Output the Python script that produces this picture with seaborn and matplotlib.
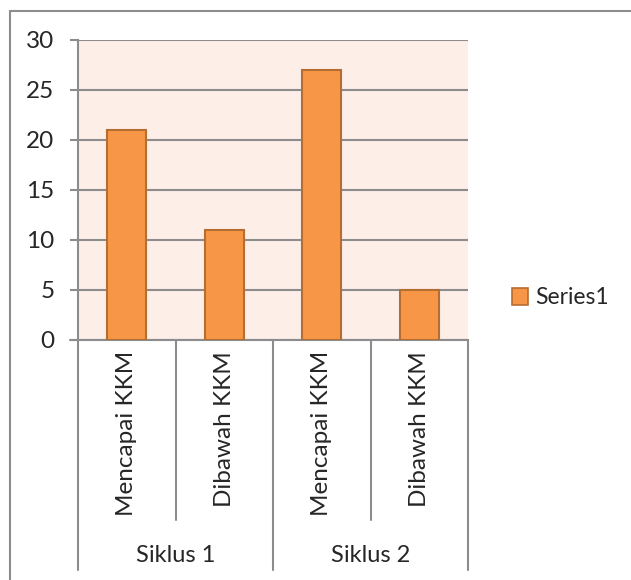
import matplotlib
matplotlib.use("Agg")
import matplotlib.pyplot as plt
import matplotlib.patches as mpatches
from matplotlib.lines import Line2D
import seaborn as sns
import pandas as pd

# chart data
groups = ["Siklus 1", "Siklus 2"]
categories = ["Mencapai KKM", "Dibawah KKM", "Mencapai KKM", "Dibawah KKM"]
group_of = ["Siklus 1", "Siklus 1", "Siklus 2", "Siklus 2"]
values = [21, 11, 27, 5]
series_name = "Series1"
yticks = [0, 5, 10, 15, 20, 25, 30]

df = pd.DataFrame({
    "key": [f"{g}|{c}" for g, c in zip(group_of, categories)],
    "value": values,
})

sns.set_style("white")
plt.rcParams["font.family"] = ["Lato", "DejaVu Sans"]

W, H = 631, 580
fs = 17
fig = plt.figure(figsize=(W / 100, H / 100), dpi=100)
ax = fig.add_axes([78 / W, (H - 340) / H, 390 / W, 300 / H])

bar_col = "#F79646"
edge_col = "#B66D31"
grid_col = "#8C8C8C"

sns.barplot(data=df, x="key", y="value", color=bar_col, width=0.4,
            saturation=1, edgecolor=edge_col, linewidth=1.5, ax=ax, zorder=3)

ax.set_facecolor("#FDEEE8")
ax.set_xlim(-0.5, len(values) - 0.5)
ax.set_ylim(0, 30)
ax.set_yticks(yticks)
ax.set_yticklabels([str(t) for t in yticks], fontsize=fs + 0.5)
ax.tick_params(axis="y", length=6, width=1.5, color=grid_col, pad=11, left=True)
ax.tick_params(axis="x", bottom=False, labelbottom=False)
ax.set_xlabel("")
ax.set_ylabel("")
ax.yaxis.grid(True, color=grid_col, linewidth=1.5, zorder=0)
ax.set_axisbelow(True)
for s in ["top", "right"]:
    ax.spines[s].set_visible(False)
ax.spines["left"].set_color(grid_col)
ax.spines["left"].set_linewidth(1.5)
ax.spines["bottom"].set_color(grid_col)
ax.spines["bottom"].set_linewidth(1.5)

# axis line extends slightly left like a tick
ax.plot([-0.5 - 8 / 97.5, -0.5], [0, 0], color=grid_col, lw=1.5, clip_on=False)

# multi-level category labels
tr = ax.get_xaxis_transform()
px = 1 / 300  # one pixel in axes y units
for i, c in enumerate(categories):
    ax.text(i, -11 * px, c, rotation=90, ha="center", va="top",
            fontsize=fs + 0.5, transform=tr)

for x in [-0.5, 1.5, 3.5]:
    ax.add_line(Line2D([x, x], [0, -230 * px], color=grid_col, lw=1.5,
                       transform=tr, clip_on=False))
for x in [0.5, 2.5]:
    ax.add_line(Line2D([x, x], [0, -180 * px], color=grid_col, lw=1.5,
                       transform=tr, clip_on=False))

for j, g in enumerate(groups):
    ax.text(2 * j + 0.5, -216 * px, g, ha="center", va="center",
            fontsize=fs, transform=tr)

# legend
handle = mpatches.Patch(facecolor=bar_col, edgecolor=edge_col, linewidth=1.2,
                        label=series_name)
fig.legend(handles=[handle], loc="center left",
           bbox_to_anchor=(491 / W, 1 - 298 / H), frameon=False,
           fontsize=fs - 0.5, handlelength=0.7, handleheight=0.7,
           handletextpad=0.35)

# chart border (top and left visible)
fig.add_artist(Line2D([9.5 / W, 1], [1 - 10.5 / H, 1 - 10.5 / H],
                      color=grid_col, lw=1.5, transform=fig.transFigure))
fig.add_artist(Line2D([9.5 / W, 9.5 / W], [0, 1 - 10.5 / H],
                      color=grid_col, lw=1.5, transform=fig.transFigure))

fig.savefig("out.png", dpi=100, facecolor="white")
